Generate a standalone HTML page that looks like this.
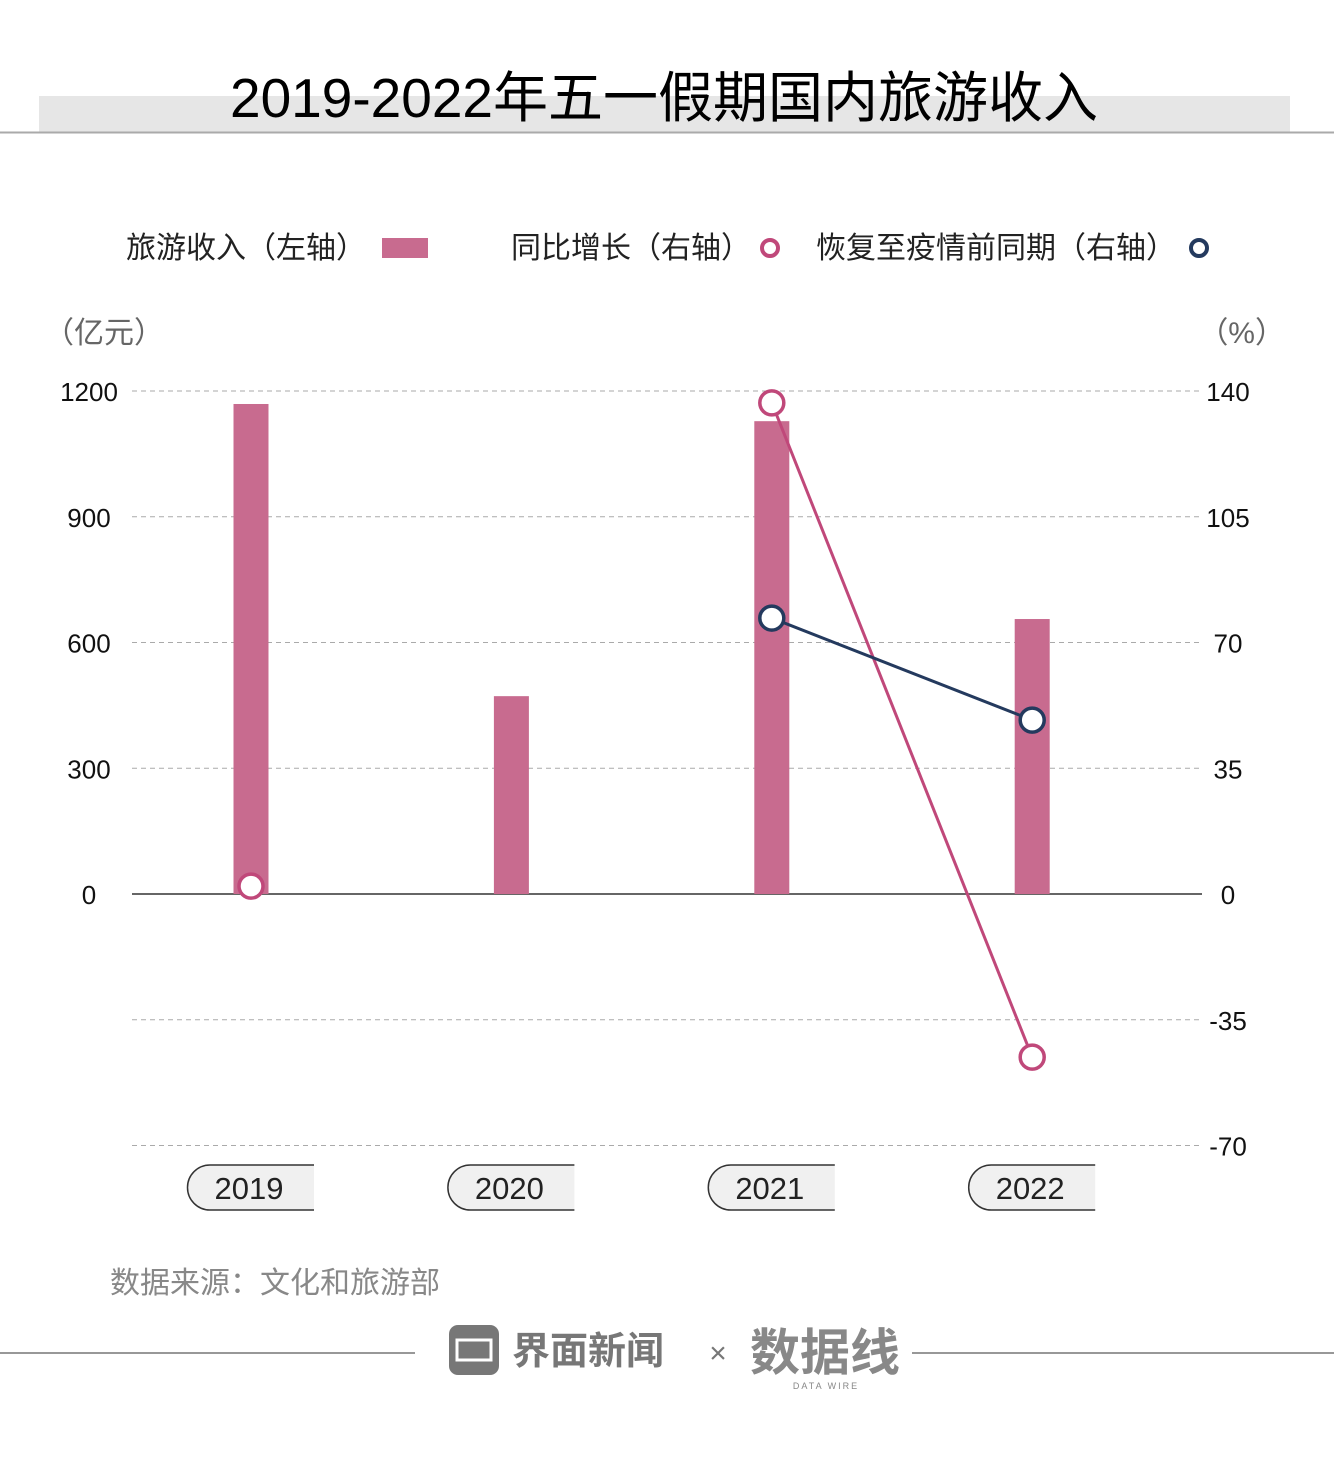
<!DOCTYPE html>
<html><head><meta charset="utf-8"><style>
body{margin:0;background:#fff;}
svg text{font-family:"Liberation Sans","Noto Sans CJK SC",sans-serif;}
</style></head><body>
<svg id="chart" width="1334" height="1452" viewBox="0 0 1334 1452" xmlns="http://www.w3.org/2000/svg">
<rect x="39" y="96" width="1251" height="36" fill="#e6e6e6"/>
<line x1="0" y1="132.5" x2="1334" y2="132.5" stroke="#aaa" stroke-width="2"/>
<text x="664" y="117" font-size="55" text-anchor="middle" fill="#000">2019-2022年五一假期国内旅游收入</text>
<g font-size="30" fill="#222">
<text x="126" y="258">旅游收入（左轴）</text>
<rect x="382" y="238" width="46" height="20" fill="#c86b8f"/>
<text x="511" y="258">同比增长（右轴）</text>
<circle cx="770" cy="248" r="8" fill="#fff" stroke="#c0487a" stroke-width="4"/>
<text x="816" y="258">恢复至疫情前同期（右轴）</text>
<circle cx="1199" cy="248" r="8" fill="#fff" stroke="#243a5e" stroke-width="4"/>
</g>
<text x="44" y="343" font-size="30" fill="#666">（亿元）</text>
<text x="1285" y="343" font-size="30" fill="#666" text-anchor="end">（%）</text>
<g id="grid"></g><g id="bars"></g><g id="lines"></g><g id="xlabels"></g>
<text x="110" y="1293" font-size="30" fill="#888">数据来源：文化和旅游部</text>
<line x1="0" y1="1353" x2="415" y2="1353" stroke="#777" stroke-width="1.5"/>
<line x1="912" y1="1353" x2="1334" y2="1353" stroke="#777" stroke-width="1.5"/>
<g>
<rect x="449" y="1325" width="50" height="50" rx="9" fill="#777"/>
<rect x="457" y="1340" width="34" height="20" fill="none" stroke="#fff" stroke-width="3"/>
<text x="512" y="1364" font-size="38" font-weight="bold" fill="#777">界面新闻</text>
</g>
<text x="718" y="1363" font-size="30" fill="#777" text-anchor="middle">×</text>
<g>
<text x="825" y="1370" font-size="50" font-weight="bold" fill="#888" text-anchor="middle">数据线</text>
<text x="826" y="1389" font-size="9" fill="#888" text-anchor="middle" letter-spacing="2">DATA WIRE</text>
</g>
</svg>
<script>
const years=['2019','2020','2021','2022'];
const revenue=[1169,472,1128,656];
const yoy=[2.2,null,136.7,-45.4];
const recovery=[null,null,76.8,48.4];
const leftTicks=[0,300,600,900,1200];
const rightTicks=[140,105,70,35,0,-35,-70];
const NS='http://www.w3.org/2000/svg';
const y0=894, pxPerL=125.75/300, pxPerR=125.75/35;
const yL=v=>y0-v*pxPerL, yR=v=>y0-v*pxPerR;
const xC=i=>251+i*260.4;
function mk(t,a,p){const e=document.createElementNS(NS,t);for(const k in a)e.setAttribute(k,a[k]);document.getElementById(p).appendChild(e);return e;}
rightTicks.forEach(v=>{
 const y=yR(v);
 const l=mk('line',{x1:132,x2:1202,y1:y,y2:y,stroke:v===0?'#333':'#aaa','stroke-width':v===0?1.5:1,'stroke-dasharray':v===0?'none':'5 4'},'grid');
 
 
 const t=mk('text',{x:1228,y:y+10,'font-size':26,fill:'#111','text-anchor':'middle'},'grid');t.textContent=v;
 
 
});
leftTicks.forEach(v=>{
 const t=mk('text',{x:89,y:yL(v)+10,'font-size':26,fill:'#111','text-anchor':'middle'},'grid');t.textContent=v;
 
 
});
revenue.forEach((v,i)=>{
 const r=mk('rect',{x:xC(i)-17.5,y:yL(v),width:35,height:y0-yL(v),fill:'#c86b8f'},'bars');
 
 
});
function series(vals,color,name){
 for(let i=0;i<vals.length-1;i++){if(vals[i]!==null&&vals[i+1]!==null){
  const l=mk('line',{x1:xC(i),y1:yR(vals[i]),x2:xC(i+1),y2:yR(vals[i+1]),stroke:color,'stroke-width':3},'lines');
  
  }}
 vals.forEach((v,i)=>{if(v===null)return;
  const c=mk('circle',{cx:xC(i),cy:yR(v),r:12,fill:'#fff',stroke:color,'stroke-width':3.5},'lines');
  
  });
}
series(yoy,'#c0487a','yoy');
series(recovery,'#243a5e','recovery');
years.forEach((y,i)=>{
 const x=xC(i)-63;
 const p=mk('path',{d:`M${x+126},1165 H${x+22} A22 22 0 0 0 ${x+22},1210 H${x+126}`,fill:'#f0f0f0',stroke:'#333','stroke-width':1.5},'xlabels');
 
 
 const t=mk('text',{x:xC(i)-2,y:1199,'font-size':31,fill:'#222','text-anchor':'middle'},'xlabels');t.textContent=y;
 
 
});
</script>
</body></html>
